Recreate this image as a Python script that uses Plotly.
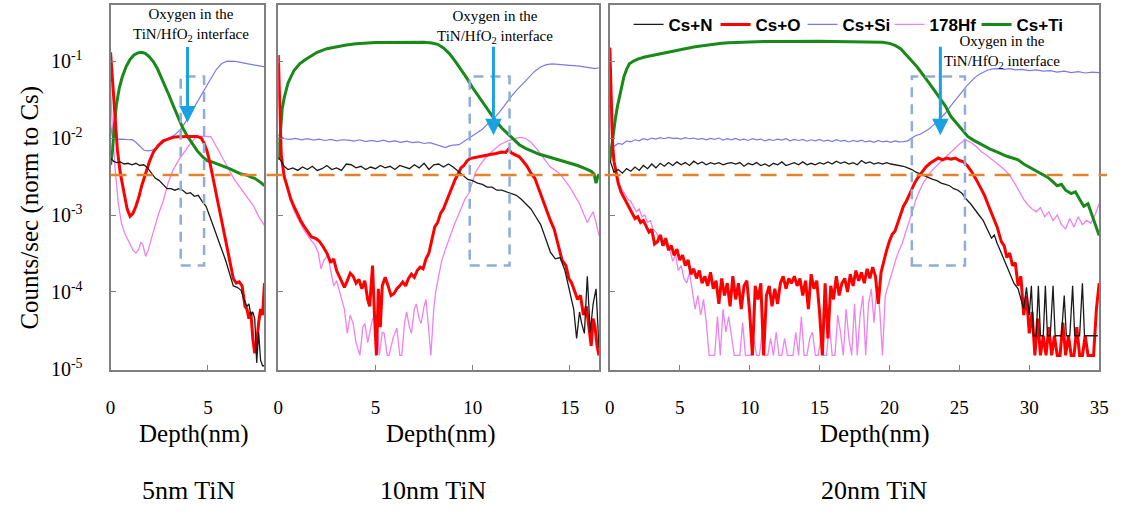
import plotly.graph_objects as go

# ---------------- data (depth nm, counts/sec normalised to Cs) ----------------
# Panel 1 : 5nm TiN
p1_cs_n = [(0.0,5.5e-3),(0.15,5.0e-3),(0.3,4.8e-3),(0.5,4.9e-3),(0.7,4.6e-3),(0.9,4.7e-3),(1.1,4.5e-3),(1.3,4.7e-3),
           (1.5,4.4e-3),(1.7,4.5e-3),(1.9,4.1e-3),(2.1,3.5e-3),(2.3,3.0e-3),(2.5,2.8e-3),(2.7,2.5e-3),(2.9,2.2e-3),
           (3.1,2.2e-3),(3.3,2.1e-3),(3.5,2.2e-3),(3.7,2.1e-3),(3.9,1.9e-3),(4.1,1.95e-3),(4.3,1.75e-3),(4.5,1.8e-3),
           (4.7,1.5e-3),(4.9,1.3e-3),(5.1,9.5e-4),(5.3,7.0e-4),(5.5,5.0e-4),(5.7,3.6e-4),(5.9,2.6e-4),(6.1,1.8e-4),
           (6.3,1.2e-4),(6.5,1.15e-4),(6.7,1.05e-4),(6.85,8.0e-5),(7.0,6.5e-5),(7.1,7.0e-5),(7.2,5.0e-5),(7.3,5.5e-5),
           (7.4,4.5e-5),(7.5,1.2e-5),(7.6,3.0e-5),(7.7,1.3e-5),(7.8,1.1e-5),(7.9,1.1e-5)]
p1_cs_o = [(0.0,0.13),(0.08,0.07),(0.15,0.035),(0.25,0.014),(0.35,7.0e-3),(0.5,3.5e-3),(0.7,1.8e-3),(0.85,1.2e-3),
           (1.0,9.6e-4),(1.15,1.05e-3),(1.3,1.3e-3),(1.45,1.7e-3),(1.6,2.4e-3),(1.8,3.6e-3),(2.0,5.0e-3),(2.2,6.6e-3),
           (2.45,8.0e-3),(2.7,9.2e-3),(2.95,9.8e-3),(3.2,1.02e-2),(3.45,1.04e-2),(3.7,1.05e-2),(3.95,1.05e-2),
           (4.2,1.05e-2),(4.45,1.05e-2),(4.65,1.0e-2),(4.8,8.6e-3),(4.95,6.8e-3),(5.1,4.8e-3),(5.25,3.2e-3),
           (5.4,2.0e-3),(5.55,1.3e-3),(5.7,8.5e-4),(5.85,5.4e-4),(6.0,3.6e-4),(6.15,2.3e-4),(6.3,1.5e-4),(6.45,1.3e-4),
           (6.6,1.35e-4),(6.75,1.2e-4),(6.9,6.5e-5),(7.0,6.0e-5),(7.1,4.5e-5),(7.2,5.5e-5),(7.3,2.5e-5),(7.4,1.6e-5),
           (7.5,2.2e-5),(7.6,4.0e-5),(7.7,6.0e-5),(7.8,5.0e-5),(7.9,1.3e-4)]
p1_cs_si = [(0.0,1.5e-2),(0.1,1.0e-2),(0.3,9.6e-3),(0.6,9.7e-3),(0.9,9.5e-3),(1.1,9.6e-3),(1.3,8.8e-3),(1.5,7.8e-3),
            (1.7,7.0e-3),(1.9,6.8e-3),(2.1,6.9e-3),(2.4,7.6e-3),(2.7,8.8e-3),(3.0,1.0e-2),(3.3,1.1e-2),(3.6,1.3e-2),
            (3.9,1.7e-2),(4.2,2.3e-2),(4.5,3.1e-2),(4.8,4.3e-2),(5.1,5.8e-2),(5.4,7.6e-2),(5.7,9.3e-2),(6.0,0.1),
            (6.4,0.099),(6.8,0.095),(7.2,0.092),(7.6,0.088),(7.9,0.084)]
p1_hf178 = [(0.0,0.05),(0.1,0.012),(0.25,3.5e-3),(0.4,1.4e-3),(0.55,8.0e-4),(0.7,6.0e-4),(0.85,5.0e-4),(1.0,4.2e-4),
            (1.15,3.5e-4),(1.3,3.2e-4),(1.45,3.6e-4),(1.55,4.4e-4),(1.65,4.2e-4),(1.8,2.9e-4),(1.95,3.6e-4),
            (2.1,5.0e-4),(2.3,7.5e-4),(2.5,1.1e-3),(2.7,1.5e-3),(2.95,2.6e-3),(3.2,3.8e-3),(3.5,5.2e-3),(3.85,6.9e-3),
            (4.1,8.5e-3),(4.35,1.0e-2),(4.6,1.05e-2),(4.85,1.05e-2),(5.15,1.04e-2),(5.4,8.0e-3),(5.7,5.7e-3),
            (6.0,4.2e-3),(6.35,2.9e-3),(6.7,2.2e-3),(7.1,1.6e-3),(7.35,1.3e-3),(7.6,9.6e-4),(7.75,8.5e-4),(7.9,7.3e-4)]
p1_cs_ti = [(0.0,4.5e-3),(0.1,7.0e-3),(0.2,1.5e-2),(0.3,2.7e-2),(0.45,4.5e-2),(0.6,6.2e-2),(0.8,8.5e-2),(1.0,0.105),
            (1.2,0.12),(1.4,0.128),(1.6,0.13),(1.8,0.125),(2.0,0.113),(2.2,0.098),(2.4,0.08),(2.7,0.055),(3.0,0.036),
            (3.2,0.027),(3.45,0.019),(3.7,0.0136),(3.95,0.0105),(4.2,0.0083),(4.45,0.0068),(4.7,0.0058),(4.95,0.0051),
            (5.2,0.0049),(5.5,0.0046),(5.8,0.0043),(6.1,0.0040),(6.4,0.0037),(6.7,0.0034),(7.0,0.0033),(7.2,0.0031),
            (7.4,0.0030),(7.6,0.0028),(7.75,0.0026),(7.9,0.0024)]

# Panel 2 : 10nm TiN
p2_cs_n = [(0.0,5.6e-3),(0.15,5.0e-3),(0.3,4.3e-3),(0.5,3.9e-3),(0.75,4.1e-3),(1.0,3.8e-3),(1.25,4.2e-3),(1.5,3.9e-3),
           (1.75,4.3e-3),(2.0,3.8e-3),(2.25,4.0e-3),(2.5,4.4e-3),(2.75,3.9e-3),(3.0,4.1e-3),(3.25,3.8e-3),(3.5,4.6e-3),
           (3.75,4.5e-3),(4.0,4.1e-3),(4.25,4.3e-3),(4.5,3.9e-3),(4.75,4.2e-3),(5.0,4.0e-3),(5.25,4.4e-3),(5.5,4.1e-3),
           (5.75,4.3e-3),(6.0,3.9e-3),(6.25,4.4e-3),(6.5,4.2e-3),(6.75,4.0e-3),(7.0,4.5e-3),(7.25,4.1e-3),(7.5,4.7e-3),
           (7.75,3.9e-3),(8.0,4.5e-3),(8.25,4.6e-3),(8.5,4.2e-3),(8.75,4.6e-3),(9.0,4.2e-3),(9.25,3.7e-3),(9.5,3.3e-3),
           (9.75,2.9e-3),(10.0,2.8e-3),(10.25,2.6e-3),(10.5,2.5e-3),(10.75,2.3e-3),(11.0,2.3e-3),(11.25,2.1e-3),
           (11.5,2.1e-3),(11.75,2.0e-3),(12.0,1.9e-3),(12.25,1.8e-3),(12.5,1.6e-3),(12.75,1.4e-3),(13.0,1.2e-3),
           (13.25,9.5e-4),(13.5,7.5e-4),(13.75,5.0e-4),(14.0,3.3e-4),(14.25,2.7e-4),(14.5,2.8e-4),(14.75,1.9e-4),
           (15.0,1.0e-4),(15.2,6.0e-5),(15.35,2.5e-5),(15.5,5.5e-5),(15.6,4.0e-5),(15.75,2.9e-5),(15.9,1.6e-4),
           (16.05,3.0e-5),(16.2,7.0e-5),(16.35,1.1e-4),(16.5,1.9e-5)]
p2_cs_o = [(0.0,0.12),(0.05,0.05),(0.1,0.015),(0.15,6.0e-3),(0.3,3.2e-3),(0.5,2.1e-3),(0.65,1.6e-3),(0.8,1.3e-3),
           (1.0,1.0e-3),(1.15,8.5e-4),(1.3,7.3e-4),(1.5,6.2e-4),(1.7,5.2e-4),(1.9,5.0e-4),(2.1,4.6e-4),(2.3,3.9e-4),
           (2.5,3.2e-4),(2.7,2.4e-4),(2.85,2.7e-4),(3.0,1.9e-4),(3.2,1.5e-4),(3.4,1.15e-4),(3.55,1.4e-4),(3.7,1.75e-4),
           (3.85,1.6e-4),(4.0,1.3e-4),(4.15,1.45e-4),(4.3,1.1e-4),(4.45,1.4e-4),(4.6,8.0e-5),(4.7,6.5e-5),(4.85,2.2e-4),
           (4.95,5.0e-5),(5.05,1.5e-5),(5.15,1.1e-4),(5.25,3.5e-5),(5.35,1.2e-4),(5.5,1.55e-4),(5.65,1.2e-4),
           (5.8,9.0e-5),(5.95,9.5e-5),(6.1,1.1e-4),(6.25,1.2e-4),(6.4,1.35e-4),(6.55,1.2e-4),(6.7,1.5e-4),(6.85,1.7e-4),
           (7.0,1.55e-4),(7.15,1.9e-4),(7.3,2.1e-4),(7.45,2.0e-4),(7.6,2.7e-4),(7.75,3.2e-4),(7.9,4.8e-4),(8.05,7.0e-4),
           (8.2,8.0e-4),(8.35,1.05e-3),(8.5,1.2e-3),(8.65,1.5e-3),(8.8,1.8e-3),(8.95,2.3e-3),(9.1,2.9e-3),(9.25,3.4e-3),
           (9.4,4.1e-3),(9.55,4.4e-3),(9.7,5.0e-3),(9.85,5.4e-3),(10.0,5.5e-3),(10.3,5.8e-3),(10.6,5.9e-3),
           (10.9,6.1e-3),(11.2,6.3e-3),(11.5,6.6e-3),(11.7,6.5e-3),(11.85,7.2e-3),(12.0,6.4e-3),(12.2,6.1e-3),
           (12.4,5.7e-3),(12.6,5.0e-3),(12.8,4.3e-3),(13.0,3.5e-3),(13.2,3.0e-3),(13.4,2.2e-3),(13.6,1.6e-3),
           (13.8,1.1e-3),(14.0,8.5e-4),(14.2,6.5e-4),(14.4,4.0e-4),(14.6,2.6e-4),(14.8,2.2e-4),(14.95,1.5e-4),
           (15.1,1.3e-4),(15.25,1.0e-4),(15.4,8.0e-5),(15.55,9.0e-5),(15.7,5.0e-5),(15.85,6.5e-5),(16.0,3.0e-5),
           (16.1,2.0e-5),(16.2,4.5e-5),(16.3,3.5e-5),(16.4,2.0e-5),(16.5,1.5e-5)]
p2_cs_si = [(0.0,1.1e-2),(0.3,9.8e-3),(0.6,9.6e-3),(0.9,9.9e-3),(1.2,9.5e-3),(1.5,9.8e-3),(1.8,9.4e-3),(2.1,9.7e-3),
            (2.4,9.3e-3),(2.7,9.6e-3),(3.0,9.2e-3),(3.3,9.5e-3),(3.6,9.4e-3),(3.9,9.1e-3),(4.2,9.5e-3),(4.5,9.0e-3),
            (4.8,9.3e-3),(5.1,9.0e-3),(5.4,9.4e-3),(5.7,8.9e-3),(6.0,9.2e-3),(6.3,8.8e-3),(6.6,9.1e-3),(6.9,8.7e-3),
            (7.2,8.9e-3),(7.5,8.5e-3),(7.8,8.7e-3),(8.1,8.3e-3),(8.4,7.8e-3),(8.6,7.5e-3),(8.8,7.9e-3),(9.0,8.1e-3),
            (9.3,8.2e-3),(9.6,9.2e-3),(9.9,1.02e-2),(10.2,1.15e-2),(10.5,1.3e-2),(10.8,1.55e-2),(11.1,1.8e-2),
            (11.4,2.2e-2),(11.7,2.8e-2),(12.0,3.5e-2),(12.3,4.3e-2),(12.6,5.2e-2),(12.9,6.2e-2),(13.2,7.4e-2),
            (13.5,8.4e-2),(13.8,9.0e-2),(14.1,9.2e-2),(14.5,9.1e-2),(15.0,8.8e-2),(15.5,8.6e-2),(16.0,8.2e-2),
            (16.3,8.0e-2),(16.5,8.2e-2)]
p2_hf178 = [(0.0,0.09),(0.05,0.03),(0.1,0.012),(0.2,5.0e-3),(0.4,2.5e-3),(0.6,1.6e-3),(0.8,1.15e-3),(1.0,9.0e-4),
            (1.3,6.5e-4),(1.6,5.0e-4),(1.9,4.0e-4),(2.05,3.3e-4),(2.2,2.0e-4),(2.35,2.6e-4),(2.55,3.0e-4),(2.7,1.9e-4),
            (2.85,1.2e-4),(3.0,1.4e-4),(3.2,9.0e-5),(3.4,6.0e-5),(3.55,2.9e-5),(3.7,5.0e-5),(3.85,3.9e-5),(4.0,2.2e-5),
            (4.2,1.5e-5),(4.35,3.5e-5),(4.45,3.9e-5),(4.6,2.2e-5),(4.7,2.9e-5),(4.85,4.5e-5),(5.05,5.2e-5),(5.2,1.5e-5),
            (5.35,3.0e-5),(5.45,2.9e-5),(5.6,1.5e-5),(5.7,1.5e-5),(5.9,2.5e-5),(6.1,3.4e-5),(6.25,1.5e-5),(6.35,1.5e-5),
            (6.5,4.0e-5),(6.6,5.5e-5),(6.75,3.5e-5),(6.85,2.9e-5),(7.0,6.0e-5),(7.1,7.0e-5),(7.25,4.5e-5),(7.35,3.9e-5),
            (7.5,6.5e-5),(7.6,8.0e-5),(7.75,3.0e-5),(7.85,1.5e-5),(8.0,6.0e-5),(8.1,1.0e-4),(8.25,1.6e-4),(8.4,2.5e-4),
            (8.6,3.6e-4),(8.8,5.0e-4),(8.95,6.5e-4),(9.1,8.0e-4),(9.3,1.05e-3),(9.45,1.3e-3),(9.6,1.6e-3),(9.8,1.9e-3),
            (10.0,2.7e-3),(10.15,3.6e-3),(10.4,4.5e-3),(10.65,5.5e-3),(11.0,6.7e-3),(11.4,8.2e-3),(11.8,9.2e-3),
            (12.1,9.7e-3),(12.4,1.02e-2),(12.7,1.0e-2),(13.0,8.8e-3),(13.3,7.2e-3),(13.5,6.2e-3),(13.75,5.0e-3),
            (14.0,4.2e-3),(14.25,3.8e-3),(14.5,3.4e-3),(14.75,2.8e-3),(15.0,2.3e-3),(15.25,1.8e-3),(15.5,1.4e-3),
            (15.7,1.05e-3),(15.9,8.0e-4),(16.05,9.5e-4),(16.2,1.1e-3),(16.35,8.0e-4),(16.5,5.4e-4)]
p2_cs_ti = [(0.0,5.2e-3),(0.05,8.0e-3),(0.1,1.4e-2),(0.2,2.4e-2),(0.3,3.3e-2),(0.5,5.2e-2),(0.8,7.5e-2),(1.1,9.2e-2),
            (1.4,0.105),(1.7,0.118),(2.0,0.13),(2.5,0.145),(3.0,0.155),(3.5,0.162),(4.0,0.168),(4.5,0.172),(5.0,0.174),
            (5.5,0.175),(6.0,0.176),(6.5,0.177),(7.0,0.176),(7.5,0.176),(7.9,0.172),(8.2,0.165),(8.5,0.148),(8.8,0.125),
            (9.1,0.1),(9.4,0.078),(9.7,0.06),(10.0,0.045),(10.3,0.035),(10.6,0.027),(10.9,0.021),(11.2,0.0165),
            (11.5,0.0135),(11.8,0.0115),(12.1,0.0098),(12.4,0.0082),(12.7,0.0074),(13.0,0.0068),(13.4,0.0062),
            (13.8,0.0058),(14.2,0.0054),(14.6,0.0050),(15.0,0.0047),(15.4,0.0044),(15.8,0.0040),(16.1,0.0037),
            (16.25,0.0034),(16.35,0.0026),(16.45,0.0032),(16.5,0.0034)]

# Panel 3 : 20nm TiN
p3_cs_n = [(0.0,5.2e-3),(0.15,4.2e-3),(0.3,3.6e-3),(0.6,3.9e-3),(0.9,3.5e-3),(1.2,4.0e-3),(1.5,3.7e-3),(1.8,4.2e-3),
           (2.1,3.8e-3),(2.4,4.4e-3),(2.7,4.0e-3),(3.0,4.6e-3),(3.3,4.1e-3),(3.6,4.7e-3),(3.9,4.3e-3),(4.2,4.8e-3),
           (4.5,4.4e-3),(4.8,4.9e-3),(5.1,4.5e-3),(5.4,4.8e-3),(5.7,4.4e-3),(6.0,5.0e-3),(6.3,4.6e-3),(6.6,4.9e-3),
           (6.9,4.5e-3),(7.2,4.8e-3),(7.5,4.6e-3),(7.8,4.8e-3),(8.1,4.5e-3),(8.4,4.7e-3),(8.7,4.8e-3),(9.0,4.6e-3),
           (9.3,4.8e-3),(9.6,4.3e-3),(9.9,4.7e-3),(10.2,4.5e-3),(10.5,4.8e-3),(10.8,4.4e-3),(11.1,4.6e-3),(11.4,4.3e-3),
           (11.7,4.7e-3),(12.0,4.5e-3),(12.3,4.9e-3),(12.6,4.4e-3),(12.9,4.6e-3),(13.2,4.8e-3),(13.5,4.5e-3),
           (13.8,4.9e-3),(14.1,4.5e-3),(14.4,4.7e-3),(14.7,4.5e-3),(15.0,4.8e-3),(15.3,4.6e-3),(15.6,4.9e-3),
           (15.9,4.6e-3),(16.2,5.0e-3),(16.5,4.7e-3),(16.8,4.9e-3),(17.1,4.6e-3),(17.4,4.8e-3),(17.7,4.5e-3),
           (18.0,5.1e-3),(18.3,4.7e-3),(18.6,4.9e-3),(18.9,4.6e-3),(19.2,4.8e-3),(19.5,4.6e-3),(19.8,4.8e-3),
           (20.1,4.6e-3),(20.4,4.5e-3),(20.7,4.4e-3),(21.0,4.3e-3),(21.3,4.1e-3),(21.6,3.9e-3),(21.9,3.6e-3),
           (22.2,3.4e-3),(22.5,3.2e-3),(22.8,3.0e-3),(23.1,2.9e-3),(23.4,2.8e-3),(23.7,2.6e-3),(24.0,2.5e-3),
           (24.3,2.4e-3),(24.6,2.2e-3),(24.9,2.1e-3),(25.2,1.9e-3),(25.5,1.6e-3),(25.8,1.4e-3),(26.1,1.2e-3),
           (26.4,1.0e-3),(26.7,8.5e-4),(27.0,6.5e-4),(27.3,5.0e-4),(27.5,5.5e-4),(27.7,4.3e-4),(28.0,3.2e-4),
           (28.3,2.4e-4),(28.6,1.8e-4),(28.9,1.3e-4),(29.2,1.1e-4),(29.4,8.0e-5),(29.6,6.0e-5),(29.8,1.15e-4),
           (30.0,5.0e-5),(30.15,1.2e-4),(30.3,2.7e-5),(30.5,2.7e-5),(30.65,1.2e-4),(30.8,2.7e-5),(31.0,2.7e-5),
           (31.15,1.2e-4),(31.3,2.7e-5),(31.5,2.7e-5),(31.7,1.2e-4),(31.85,2.7e-5),(32.0,2.7e-5),(32.3,2.7e-5),
           (32.5,9.0e-5),(32.65,2.7e-5),(32.9,2.7e-5),(33.1,1.2e-4),(33.25,2.7e-5),(33.6,2.7e-5),(33.8,1.3e-4),
           (33.95,2.7e-5),(34.3,2.7e-5),(34.6,2.7e-5),(34.9,2.7e-5)]
p3_cs_o = [(0.0,0.15),(0.05,0.06),(0.1,0.02),(0.2,8.0e-3),(0.3,5.0e-3),(0.45,3.5e-3),(0.6,2.6e-3),(0.8,2.0e-3),
           (1.0,1.7e-3),(1.2,1.4e-3),(1.4,1.25e-3),(1.6,1.05e-3),(1.8,9.0e-4),(2.0,9.5e-4),(2.2,8.0e-4),(2.4,8.5e-4),
           (2.6,7.0e-4),(2.8,6.0e-4),(3.0,6.5e-4),(3.2,4.2e-4),(3.4,4.5e-4),(3.6,5.5e-4),(3.8,4.0e-4),(4.0,5.0e-4),
           (4.2,3.5e-4),(4.4,4.0e-4),(4.6,3.0e-4),(4.8,3.6e-4),(5.0,2.6e-4),(5.2,3.0e-4),(5.4,2.2e-4),(5.6,2.6e-4),
           (5.8,1.7e-4),(6.0,2.0e-4),(6.2,1.5e-4),(6.4,1.9e-4),(6.6,1.3e-4),(6.8,1.6e-4),(7.0,1.2e-4),(7.2,1.8e-4),
           (7.4,1.1e-4),(7.6,1.4e-4),(7.8,7.0e-5),(8.0,1.5e-4),(8.2,9.0e-5),(8.4,1.3e-4),(8.6,6.5e-5),(8.8,1.6e-4),
           (9.0,8.0e-5),(9.2,1.3e-4),(9.4,6.0e-5),(9.6,1.2e-4),(9.8,1.4e-4),(10.0,5.5e-5),(10.2,1.5e-5),(10.4,1.2e-4),
           (10.6,8.0e-5),(10.8,1.3e-4),(11.0,1.5e-5),(11.2,9.0e-5),(11.4,1.2e-4),(11.6,6.5e-5),(11.8,1.1e-4),
           (12.0,7.0e-5),(12.2,1.3e-4),(12.4,1.6e-4),(12.6,1.1e-4),(12.8,1.5e-4),(13.0,1.3e-4),(13.2,1.6e-4),
           (13.4,1.2e-4),(13.6,1.5e-4),(13.8,9.0e-5),(14.0,1.4e-4),(14.2,6.0e-5),(14.4,1.7e-4),(14.6,1.1e-4),
           (14.8,1.4e-4),(15.0,5.5e-5),(15.2,1.5e-5),(15.4,1.3e-4),(15.6,2.5e-5),(15.8,1.2e-4),(16.0,8.0e-5),
           (16.2,1.6e-4),(16.4,9.0e-5),(16.6,1.3e-4),(16.8,1.5e-4),(17.0,1.0e-4),(17.2,1.7e-4),(17.4,1.2e-4),
           (17.6,1.9e-4),(17.8,1.4e-4),(18.0,1.8e-4),(18.2,1.3e-4),(18.4,2.0e-4),(18.6,1.5e-4),(18.8,2.1e-4),
           (19.0,1.6e-4),(19.2,7.0e-5),(19.4,1.8e-4),(19.6,2.6e-4),(19.8,3.5e-4),(20.0,4.6e-4),(20.2,5.6e-4),
           (20.4,6.2e-4),(20.6,8.0e-4),(20.8,1.0e-3),(21.0,1.3e-3),(21.2,1.5e-3),(21.4,1.8e-3),(21.6,2.2e-3),
           (21.8,2.6e-3),(22.0,3.0e-3),(22.3,3.6e-3),(22.6,4.2e-3),(22.9,4.7e-3),(23.2,5.1e-3),(23.5,5.5e-3),
           (23.8,5.2e-3),(24.1,5.5e-3),(24.4,5.3e-3),(24.7,5.5e-3),(25.0,5.1e-3),(25.3,4.9e-3),(25.6,4.3e-3),
           (25.9,3.6e-3),(26.2,2.9e-3),(26.5,2.3e-3),(26.8,1.8e-3),(27.1,1.3e-3),(27.4,9.5e-4),(27.7,7.0e-4),
           (28.0,4.5e-4),(28.2,4.0e-4),(28.4,2.8e-4),(28.6,3.2e-4),(28.8,2.2e-4),(29.0,2.4e-4),(29.2,1.2e-4),
           (29.4,1.6e-4),(29.6,5.0e-5),(29.8,9.0e-5),(30.0,2.9e-5),(30.2,5.5e-5),(30.4,1.5e-5),(30.6,4.5e-5),
           (30.8,1.5e-5),(31.0,2.7e-5),(31.2,1.5e-5),(31.4,3.5e-5),(31.6,1.5e-5),(31.8,2.7e-5),(32.0,1.5e-5),
           (32.2,1.5e-5),(32.4,4.0e-5),(32.6,1.5e-5),(32.8,2.7e-5),(33.0,1.5e-5),(33.2,1.5e-5),(33.4,3.5e-5),
           (33.6,1.5e-5),(33.8,1.5e-5),(34.0,2.7e-5),(34.2,1.5e-5),(34.4,1.5e-5),(34.6,1.5e-5),(34.8,6.0e-5),
           (35.0,1.3e-4)]
p3_cs_si = [(0.0,7.6e-3),(0.3,7.8e-3),(0.6,8.5e-3),(0.9,8.3e-3),(1.2,9.2e-3),(1.5,8.9e-3),(1.8,9.5e-3),(2.1,9.2e-3),
            (2.4,9.8e-3),(2.7,9.5e-3),(3.0,1.0e-2),(3.3,9.7e-3),(3.6,1.01e-2),(3.9,9.8e-3),(4.2,1.02e-2),(4.5,9.9e-3),
            (4.8,1.0e-2),(5.1,9.7e-3),(5.4,1.01e-2),(5.7,9.8e-3),(6.0,1.0e-2),(6.3,9.6e-3),(6.6,9.9e-3),(6.9,9.5e-3),
            (7.2,9.9e-3),(7.5,9.6e-3),(7.8,1.0e-2),(8.1,9.4e-3),(8.4,9.8e-3),(8.7,9.5e-3),(9.0,9.9e-3),(9.3,9.4e-3),
            (9.6,9.7e-3),(9.9,9.3e-3),(10.2,9.8e-3),(10.5,9.5e-3),(10.8,9.7e-3),(11.1,9.2e-3),(11.4,9.6e-3),
            (11.7,9.3e-3),(12.0,9.7e-3),(12.3,9.4e-3),(12.6,9.8e-3),(12.9,9.2e-3),(13.2,9.6e-3),(13.5,9.3e-3),
            (13.8,9.6e-3),(14.1,9.1e-3),(14.4,9.5e-3),(14.7,9.2e-3),(15.0,9.6e-3),(15.3,9.1e-3),(15.6,9.4e-3),
            (15.9,9.0e-3),(16.2,9.5e-3),(16.5,9.1e-3),(16.8,9.3e-3),(17.1,8.9e-3),(17.4,9.3e-3),(17.7,9.0e-3),
            (18.0,9.4e-3),(18.3,8.9e-3),(18.6,9.2e-3),(18.9,8.8e-3),(19.2,9.3e-3),(19.5,8.9e-3),(19.8,9.1e-3),
            (20.1,8.8e-3),(20.4,9.2e-3),(20.7,8.9e-3),(21.0,9.0e-3),(21.3,9.2e-3),(21.6,1.0e-2),(21.9,1.08e-2),
            (22.2,1.12e-2),(22.5,1.2e-2),(22.8,1.3e-2),(23.1,1.45e-2),(23.4,1.6e-2),(23.7,1.85e-2),(24.0,2.1e-2),
            (24.3,2.5e-2),(24.6,2.9e-2),(24.9,3.4e-2),(25.2,4.0e-2),(25.5,4.7e-2),(25.8,5.4e-2),(26.1,6.1e-2),
            (26.4,6.7e-2),(26.7,7.2e-2),(27.0,7.6e-2),(27.4,7.9e-2),(27.8,8.0e-2),(28.2,7.8e-2),(28.6,8.0e-2),
            (29.0,7.7e-2),(29.5,7.8e-2),(30.0,7.5e-2),(30.5,7.7e-2),(31.0,7.4e-2),(31.5,7.5e-2),(32.0,7.2e-2),
            (32.5,7.4e-2),(33.0,7.1e-2),(33.5,7.3e-2),(34.0,7.0e-2),(34.5,7.2e-2),(35.0,7.1e-2)]
p3_hf178 = [(0.0,0.1),(0.05,0.04),(0.1,0.015),(0.2,7.0e-3),(0.3,4.5e-3),(0.5,3.0e-3),(0.7,2.4e-3),(0.9,2.1e-3),
            (1.1,1.8e-3),(1.3,1.6e-3),(1.5,1.5e-3),(1.7,1.3e-3),(1.9,1.1e-3),(2.1,1.2e-3),(2.3,9.5e-4),(2.5,1.0e-3),
            (2.7,8.0e-4),(2.9,8.5e-4),(3.1,6.5e-4),(3.3,6.0e-4),(3.5,5.0e-4),(3.7,5.5e-4),(3.9,4.0e-4),(4.1,4.5e-4),
            (4.3,3.5e-4),(4.5,2.5e-4),(4.7,3.0e-4),(4.9,1.9e-4),(5.1,2.2e-4),(5.3,1.5e-4),(5.5,1.3e-4),(5.7,1.8e-4),
            (5.9,1.1e-4),(6.1,6.0e-5),(6.3,9.0e-5),(6.5,5.0e-5),(6.7,8.0e-5),(6.9,4.0e-5),(7.1,1.5e-5),(7.3,1.5e-5),
            (7.5,1.5e-5),(7.7,4.8e-5),(7.9,1.5e-5),(8.1,6.0e-5),(8.3,3.0e-5),(8.5,4.8e-5),(8.7,2.5e-5),(8.9,1.5e-5),
            (9.1,1.5e-5),(9.3,1.5e-5),(9.5,4.0e-5),(9.7,1.5e-5),(9.9,1.5e-5),(10.1,1.5e-5),(10.3,2.5e-5),(10.5,1.5e-5),
            (10.7,1.5e-5),(10.9,3.0e-5),(11.1,1.5e-5),(11.3,1.5e-5),(11.5,2.5e-5),(11.7,1.5e-5),(11.9,3.0e-5),
            (12.1,1.5e-5),(12.3,1.5e-5),(12.5,2.5e-5),(12.7,1.5e-5),(12.9,1.5e-5),(13.1,1.5e-5),(13.3,3.0e-5),
            (13.5,1.5e-5),(13.7,4.8e-5),(13.9,1.5e-5),(14.1,1.5e-5),(14.3,2.5e-5),(14.5,3.0e-5),(14.7,1.5e-5),
            (14.9,1.5e-5),(15.1,2.5e-5),(15.3,1.5e-5),(15.5,1.5e-5),(15.7,4.0e-5),(15.9,1.5e-5),(16.1,1.5e-5),
            (16.3,5.0e-5),(16.5,3.0e-5),(16.7,1.5e-5),(16.9,6.0e-5),(17.1,2.5e-5),(17.3,1.5e-5),(17.5,7.0e-5),
            (17.7,1.5e-5),(17.9,5.0e-5),(18.1,9.0e-5),(18.3,1.5e-5),(18.5,7.0e-5),(18.7,1.1e-4),(18.9,4.0e-5),
            (19.1,1.2e-4),(19.3,6.0e-5),(19.5,1.5e-5),(19.7,9.0e-5),(19.9,1.2e-4),(20.1,1.6e-4),(20.3,2.2e-4),
            (20.5,2.8e-4),(20.7,3.5e-4),(20.9,4.2e-4),(21.1,5.5e-4),(21.3,7.0e-4),(21.5,9.0e-4),(21.7,1.2e-3),
            (21.9,1.6e-3),(22.15,2.1e-3),(22.4,2.6e-3),(22.75,3.2e-3),(23.1,3.9e-3),(23.45,4.5e-3),(23.8,5.2e-3),
            (24.15,6.0e-3),(24.5,6.9e-3),(24.95,8.2e-3),(25.4,9.5e-3),(25.8,8.8e-3),(26.2,7.8e-3),(26.6,6.6e-3),
            (27.0,5.9e-3),(27.4,5.2e-3),(27.8,4.5e-3),(28.2,3.9e-3),(28.6,3.3e-3),(29.0,2.5e-3),(29.3,2.0e-3),
            (29.6,1.6e-3),(29.9,1.35e-3),(30.2,1.2e-3),(30.5,1.1e-3),(30.8,1.25e-3),(31.1,9.5e-4),(31.4,1.1e-3),
            (31.7,8.5e-4),(32.0,1.0e-3),(32.3,7.5e-4),(32.6,6.6e-4),(32.9,9.0e-4),(33.2,7.0e-4),(33.5,9.5e-4),
            (33.8,7.5e-4),(34.1,8.5e-4),(34.4,7.8e-4),(34.7,1.0e-3),(35.0,1.4e-3)]
p3_cs_ti = [(0.0,5.0e-3),(0.1,7.0e-3),(0.25,1.2e-2),(0.4,1.8e-2),(0.55,2.6e-2),(0.7,3.6e-2),(0.85,4.8e-2),(1.0,6.2e-2),
            (1.2,7.8e-2),(1.4,9.2e-2),(1.7,0.1),(2.0,0.106),(2.5,0.113),(3.0,0.118),(3.5,0.125),(4.0,0.13),(4.5,0.135),
            (5.0,0.14),(5.5,0.146),(6.0,0.152),(6.5,0.157),(7.0,0.162),(7.5,0.166),(8.0,0.17),(8.5,0.173),(9.0,0.175),
            (10.0,0.178),(11.0,0.18),(12.0,0.179),(13.0,0.181),(14.0,0.18),(15.0,0.181),(16.0,0.18),(17.0,0.179),
            (18.0,0.179),(19.0,0.178),(19.5,0.176),(20.0,0.17),(20.4,0.16),(20.8,0.145),(21.2,0.122),(21.6,0.1),
            (22.0,0.083),(22.4,0.067),(22.8,0.053),(23.2,0.042),(23.6,0.033),(24.0,0.026),(24.4,0.019),(24.8,0.0155),
            (25.2,0.0125),(25.6,0.0105),(26.0,0.0094),(26.4,0.0086),(26.8,0.0078),(27.2,0.0072),(27.6,0.0067),
            (28.0,0.0062),(28.4,0.0058),(28.8,0.0055),(29.2,0.0052),(29.6,0.0046),(30.0,0.0042),(30.3,0.0039),
            (30.7,0.0035),(31.0,0.0033),(31.3,0.0031),(31.6,0.0028),(32.0,0.0024),(32.3,0.0025),(32.6,0.0021),
            (33.0,0.0019),(33.3,0.0020),(33.6,0.0016),(33.9,0.0013),(34.2,0.0014),(34.5,0.0010),(34.8,7.0e-4),
            (35.0,5.4e-4)]

series_names = ["Cs+N", "Cs+O", "Cs+Si", "178Hf", "Cs+Ti"]
panel_titles = ["5nm TiN", "10nm TiN", "20nm TiN"]
panel_depth_max = [7.9, 16.5, 35.0]
panel_xticks = [[0, 5], [0, 5, 10, 15], [0, 5, 10, 15, 20, 25, 30, 35]]
y_ticks = [1e-5, 1e-4, 1e-3, 1e-2, 1e-1]
y_ticktext = ["10<sup>-5</sup>", "10<sup>-4</sup>", "10<sup>-3</sup>", "10<sup>-2</sup>", "10<sup>-1</sup>"]
reference_level = 3.3e-3          # orange dashed line
# Oxygen interface windows: (depth_from, depth_to, value_low, value_high) and arrow depth
interface_boxes = [(3.6, 4.8, 2.2e-4, 6.3e-2), (9.85, 11.9, 2.2e-4, 6.3e-2), (21.6, 25.4, 2.2e-4, 6.3e-2)]
arrow_depths = [3.95, 11.07, 23.64]

panels = [
    {"Cs+N": p1_cs_n, "Cs+O": p1_cs_o, "Cs+Si": p1_cs_si, "178Hf": p1_hf178, "Cs+Ti": p1_cs_ti},
    {"Cs+N": p2_cs_n, "Cs+O": p2_cs_o, "Cs+Si": p2_cs_si, "178Hf": p2_hf178, "Cs+Ti": p2_cs_ti},
    {"Cs+N": p3_cs_n, "Cs+O": p3_cs_o, "Cs+Si": p3_cs_si, "178Hf": p3_hf178, "Cs+Ti": p3_cs_ti},
]

# ---------------- styling ----------------
W, H = 1123, 517
SERIF = "Liberation Serif, Times New Roman, serif"
SANS = "Liberation Sans, Arial, sans-serif"
styles = {
    "Cs+N": dict(color="#1a1a1a", width=1.3),
    "Cs+O": dict(color="#ff0000", width=3.0),
    "Cs+Si": dict(color="#7a7ae8", width=1.2),
    "178Hf": dict(color="#ee82ee", width=1.3),
    "Cs+Ti": dict(color="#198a19", width=3.0),
}
draw_order = ["Cs+Si", "178Hf", "Cs+Ti", "Cs+O", "Cs+N"]
legend_rank = {n: i + 1 for i, n in enumerate(series_names)}

def px_x(p):
    return p / W

def px_y(p):
    return 1 - p / H

x_domains = [(107, 263), (277, 602), (613, 1109)]
y_domain = [px_y(377), px_y(5)]

fig = go.Figure()
for i, data in enumerate(panels):
    xa = "x" if i == 0 else f"x{i+1}"
    ya = "y" if i == 0 else f"y{i+1}"
    for name in draw_order:
        pts = data[name]
        fig.add_trace(go.Scatter(
            x=[p[0] for p in pts], y=[p[1] for p in pts], mode="lines", name=name,
            line=dict(color=styles[name]["color"], width=styles[name]["width"]),
            xaxis=xa, yaxis=ya, legendgroup=name, showlegend=(i == 2),
            legendrank=legend_rank[name], hoverinfo="skip"))

axis_line = dict(showline=True, mirror=True, linecolor="#7f7f7f", linewidth=2, ticks="inside", ticklen=5,
                 tickcolor="#7f7f7f", showgrid=False, zeroline=False)
layout = dict(width=W, height=H, margin=dict(l=0, r=0, t=0, b=0), paper_bgcolor="white", plot_bgcolor="white",
              showlegend=True)
for i in range(3):
    xk = "xaxis" if i == 0 else f"xaxis{i+1}"
    yk = "yaxis" if i == 0 else f"yaxis{i+1}"
    layout[xk] = dict(axis_line, domain=[px_x(x_domains[i][0]), px_x(x_domains[i][1])],
                      range=[0, panel_depth_max[i]], tickvals=panel_xticks[i],
                      tickfont=dict(family=SERIF, size=19, color="black"), ticklabelstandoff=19,
                      anchor="y" if i == 0 else f"y{i+1}")
    layout[yk] = dict(axis_line, type="log", domain=y_domain, range=[-5.01, -0.27], tickvals=y_ticks,
                      ticktext=y_ticktext, showticklabels=(i == 0),
                      tickfont=dict(family=SERIF, size=20, color="black"), ticklabelstandoff=22,
                      anchor="x" if i == 0 else f"x{i+1}")
layout["legend"] = dict(orientation="h", x=px_x(632), y=px_y(7), xanchor="left", yanchor="top",
                        font=dict(family=SANS, size=17, color="black", weight="bold"),
                        bgcolor="rgba(0,0,0,0)", itemwidth=30, entrywidth=42, entrywidthmode="pixels",
                        traceorder="normal")
fig.update_layout(**layout)

shapes = []
shapes.append(dict(type="line", xref="paper", yref="y", x0=px_x(107), x1=px_x(1117),
                   y0=reference_level, y1=reference_level,
                   line=dict(color="#e8822a", width=2.5, dash="16px,10px")))
for i, (d0, d1, v0, v1) in enumerate(interface_boxes):
    xa = "x" if i == 0 else f"x{i+1}"
    ya = "y" if i == 0 else f"y{i+1}"
    shapes.append(dict(type="rect", xref=xa, yref=ya, x0=d0, x1=d1, y0=v0, y1=v1,
                       line=dict(color="#8eadd9", width=2.5, dash="10px,7px")))
fig.update_layout(shapes=shapes)

annotations = []
note_pos = [(189, 25), (497, 28), (1010, 53)]
for (xp, yp) in note_pos:
    annotations.append(dict(x=px_x(xp), y=px_y(yp), xref="paper", yref="paper", showarrow=False,
                            xanchor="center", yanchor="middle",
                            text="Oxygen in the<br>TiN/HfO<sub>2</sub> interface",
                            font=dict(family=SERIF, size=15, color="black"), align="center"))
tips = [(125, 77), (138, 90), (138, 90)]
for i, d in enumerate(arrow_depths):
    xa = "x" if i == 0 else f"x{i+1}"
    annotations.append(dict(x=d, y=px_y(tips[i][0]), xref=xa, yref="paper", ax=0, ay=-tips[i][1],
                            showarrow=True, arrowhead=2, arrowsize=1.1, arrowwidth=3, arrowcolor="#1ba1e2",
                            text=""))
for i, xc in enumerate([192, 442, 882]):
    annotations.append(dict(x=px_x(xc), y=px_y(443), xref="paper", yref="paper", showarrow=False,
                            xanchor="center", yanchor="middle",
                            text="Depth(nm)", font=dict(family=SERIF, size=25, color="black")))
for i, xc in enumerate([186, 434, 881]):
    annotations.append(dict(x=px_x(xc), y=px_y(500), xref="paper", yref="paper", showarrow=False,
                            xanchor="center", yanchor="middle",
                            text=panel_titles[i], font=dict(family=SERIF, size=26, color="black")))
annotations.append(dict(x=px_x(25), y=px_y(212), xref="paper", yref="paper", showarrow=False, textangle=-90,
                        xanchor="center", yanchor="middle",
                        text="Counts/sec (norm to Cs)", font=dict(family=SERIF, size=25, color="black")))
fig.update_layout(annotations=annotations)

fig.write_html("out.html")
